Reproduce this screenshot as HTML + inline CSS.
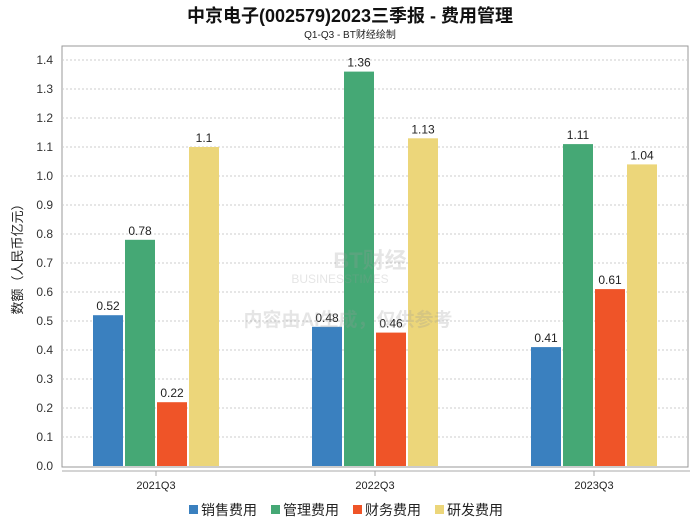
<!DOCTYPE html>
<html><head><meta charset="utf-8"><style>
body{margin:0;background:#fff;width:700px;height:524px;overflow:hidden}
svg text{font-family:"Liberation Sans","Noto Sans CJK SC",sans-serif}
</style></head><body>
<svg id="c" width="700" height="524">
<text x="350" y="22" text-anchor="middle" font-size="18" font-weight="bold" fill="#111">中京电子(002579)2023三季报 - 费用管理</text>
<text x="350" y="38" text-anchor="middle" font-size="10" fill="#222">Q1-Q3 - BT财经绘制</text>
<rect x="62" y="46" width="626" height="421" fill="none" stroke="#999"/>
<line x1="62" y1="471" x2="690" y2="471" stroke="#aaa"/>
<text transform="translate(22,256) rotate(-90)" text-anchor="middle" font-size="13" fill="#222">数额（人民币亿元）</text>
<g id="grid"></g><g id="bars"></g>
<g opacity="0.25">
<text x="370" y="268" text-anchor="middle" font-size="22" fill="#999" font-weight="bold">BT财经</text>
<text x="340" y="283" text-anchor="middle" font-size="12" fill="#999">BUSINESSTIMES</text>
<text x="348" y="326" text-anchor="middle" font-size="19" fill="#999" font-weight="bold">内容由AI生成，仅供参考</text>
</g>
<g id="legend"></g>
</svg>
<script>
const categories=["2021Q3","2022Q3","2023Q3"];
const seriesNames=["销售费用","管理费用","财务费用","研发费用"];
const sales=[0.52,0.48,0.41];
const admin=[0.78,1.36,1.11];
const finance=[0.22,0.46,0.61];
const rnd=[1.1,1.13,1.04];
const yTicks=[0,0.1,0.2,0.3,0.4,0.5,0.6,0.7,0.8,0.9,1.0,1.1,1.2,1.3,1.4];
const colors=["#3a80bf","#45a875","#ef5428","#ecd67a"];
const series=[sales,admin,finance,rnd];
const NS="http://www.w3.org/2000/svg";
const y=v=>466-v/0.1*29;
const xc=i=>156+i*219;
function mk(t,a,p){const e=document.createElementNS(NS,t);for(const k in a)e.setAttribute(k,a[k]);p.appendChild(e);return e;}
const grid=document.getElementById('grid');
yTicks.forEach(v=>{
  if(v>0){const l=mk('line',{x1:62,x2:688,y1:y(v),y2:y(v),stroke:'#ccc','stroke-dasharray':'2,2'},grid);
  
  }
  const t=mk('text',{x:53,y:y(v)+4,'text-anchor':'end','font-size':12,fill:'#333'},grid);
  t.textContent=v.toFixed(1);
  
  
});
const bars=document.getElementById('bars');
categories.forEach((c,i)=>{
  const tk=mk('line',{x1:xc(i),x2:xc(i),y1:471,y2:476,stroke:'#aaa'},bars);
  
  
  const t=mk('text',{x:xc(i),y:489,'text-anchor':'middle','font-size':11,fill:'#222'},bars);
  t.textContent=c;
  
  
  series.forEach((s,j)=>{
    const x0=xc(i)-63+j*32;
    const r=mk('rect',{x:x0,y:y(s[i]),width:30,height:466-y(s[i]),fill:colors[j]},bars);
    
    
    const l=mk('text',{x:x0+15,y:y(s[i])-5,'text-anchor':'middle','font-size':12,fill:'#222'},bars);
    l.textContent=String(s[i]);
    
    
  });
});
const lg=document.getElementById('legend');
seriesNames.forEach((n,j)=>{
  const x0=189+j*82;
  const r=mk('rect',{x:x0,y:505,width:9,height:9,fill:colors[j]},lg);
  
  
  const t=mk('text',{x:x0+12,y:515,'font-size':14,fill:'#222'},lg);
  t.textContent=n;
  
  
});
</script>
</body></html>
